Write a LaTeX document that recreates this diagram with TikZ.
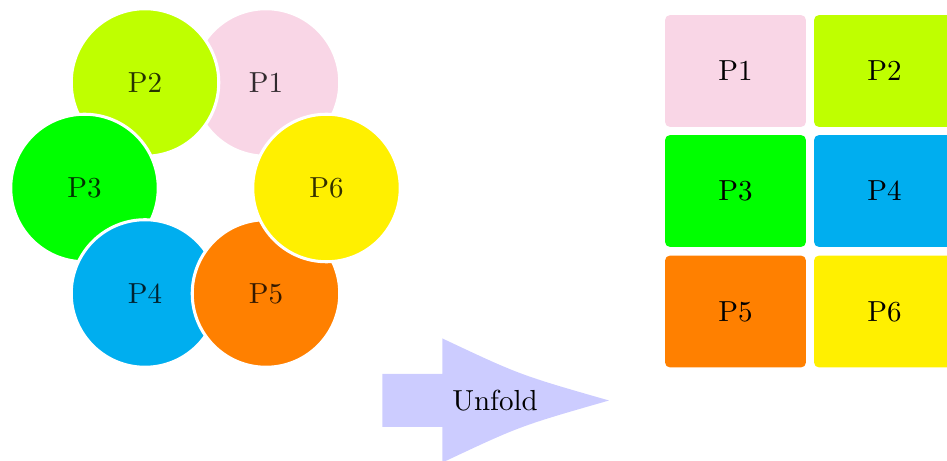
\documentclass[tikz,border=0pt]{standalone}
\usetikzlibrary{positioning}
\definecolor{cpink}{RGB}{249,214,230}
\definecolor{clime}{RGB}{191,255,0}
\definecolor{cgreen}{RGB}{0,255,0}
\definecolor{ccyan}{RGB}{0,174,239}
\definecolor{corange}{RGB}{255,128,0}
\definecolor{cyellow}{RGB}{255,240,0}
\definecolor{carrow}{RGB}{204,204,255}
\tikzset{
  petal/.style={circle, draw=white, line width=1.05pt, minimum size=50.9pt, inner sep=0pt, text opacity=0.8},
  tile/.style={rectangle, rounded corners=1.7pt, minimum width=48.6pt, minimum height=38.6pt, inner sep=0pt},
}
\begin{document}
\begin{tikzpicture}[x=0.345pt,y=-0.345pt]
\useasboundingbox (0,0) rectangle (947,461);
\clip (0,0) rectangle (947,461);
% circles
\node[petal, fill=cpink]   (c1) at (266,82.5)  {P1};
\node[petal, fill=clime]   (c2) at (145,82.5)  {P2};
\node[petal, fill=cgreen]  (c3) at (84.5,188)  {P3};
\node[petal, fill=ccyan]   (c4) at (145,293.5) {P4};
\node[petal, fill=corange] (c5) at (266,293.5) {P5};
\node[petal, fill=cyellow] (c6) at (326.5,188) {P6};
% arrow
\fill[carrow] (382.5,374) -- (442.5,374) -- (442.5,338.5)
  .. controls (520,375) .. (609,400.5)
  .. controls (520,426) .. (442.5,462.5) -- (442.5,427) -- (382.5,427) -- cycle;
\node (unfold) at (495,401) {Unfold};
% tiles
\node[tile, fill=cpink]   (r1) at (735.5,71)  {P1};
\node[tile, fill=clime]   (r2) at (884.5,71)  {P2};
\node[tile, fill=cgreen]  (r3) at (735.5,191) {P3};
\node[tile, fill=ccyan]   (r4) at (884.5,191) {P4};
\node[tile, fill=corange] (r5) at (735.5,311.5) {P5};
\node[tile, fill=cyellow] (r6) at (884.5,311.5) {P6};
\end{tikzpicture}
\end{document}
